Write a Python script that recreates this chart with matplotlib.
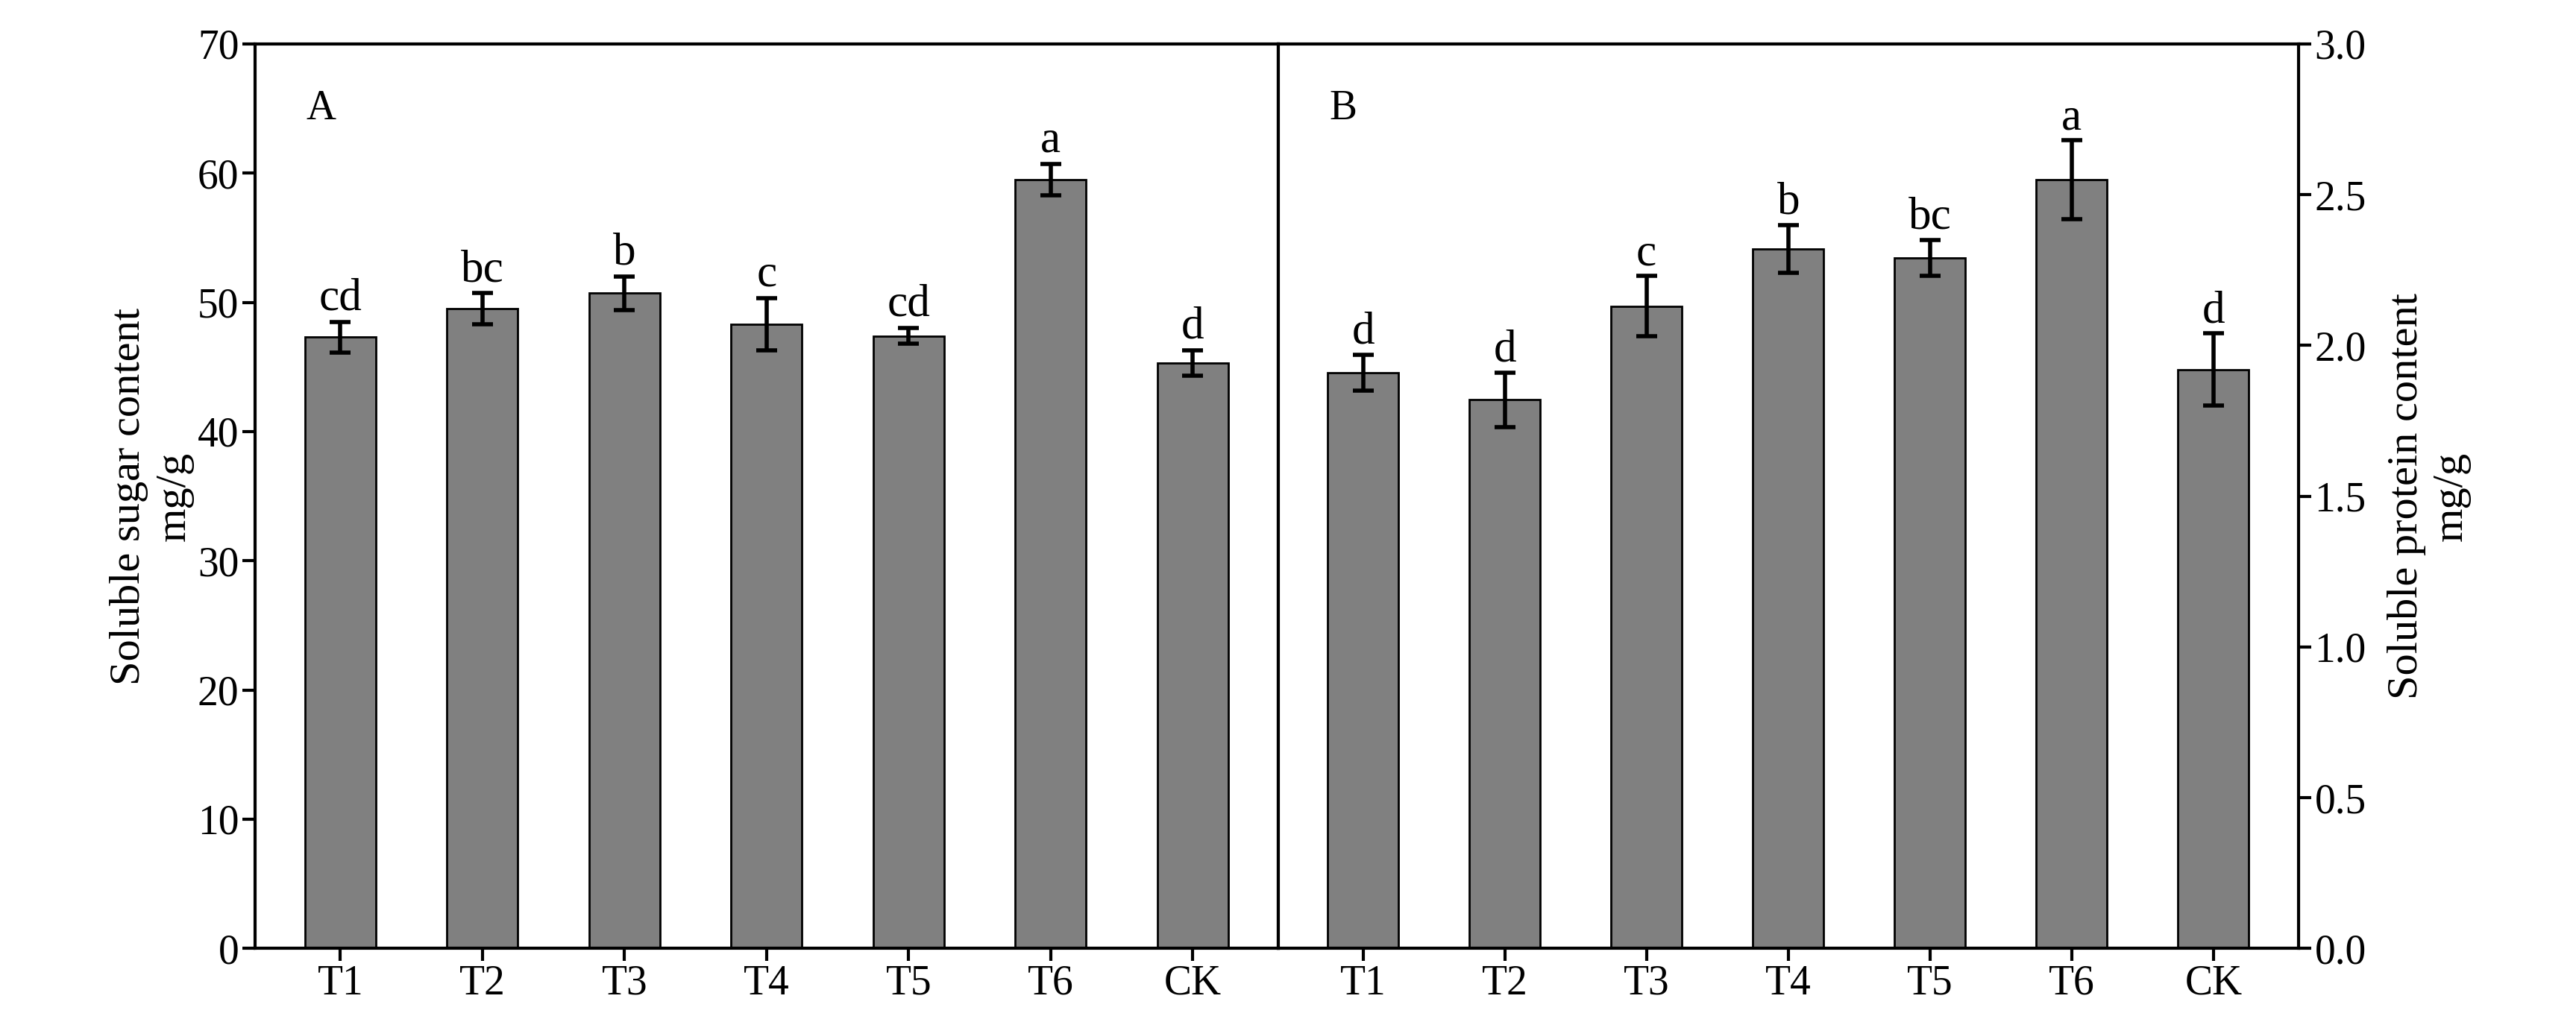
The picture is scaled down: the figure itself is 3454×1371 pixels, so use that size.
import matplotlib
matplotlib.use("Agg")
import matplotlib.pyplot as plt

plt.rcParams['font.family'] = ['Liberation Serif', 'DejaVu Serif']

groups = ['T1', 'T2', 'T3', 'T4', 'T5', 'T6', 'CK']
sugar = [47.3, 49.5, 50.7, 48.3, 47.4, 59.5, 45.3]
sugar_err = [1.2, 1.2, 1.3, 2.0, 0.6, 1.2, 1.0]
sugar_sig = ['cd', 'bc', 'b', 'c', 'cd', 'a', 'd']
protein = [1.91, 1.82, 2.13, 2.32, 2.29, 2.55, 1.92]
protein_err = [0.06, 0.09, 0.10, 0.08, 0.06, 0.13, 0.12]
protein_sig = ['d', 'd', 'c', 'b', 'bc', 'a', 'd']

fig = plt.figure(figsize=(34.55, 13.71), dpi=100)
ax1 = fig.add_axes([0.099, 0.072, 0.397, 0.885])
ax2 = fig.add_axes([0.496, 0.072, 0.396, 0.885])

x = range(len(groups))

def panel(ax, vals, errs, sig, ymax, off, letter):
    ax.bar(x, vals, width=0.5, color='#808080', edgecolor='black', linewidth=2)
    ax.errorbar(x, vals, yerr=errs, fmt='none', ecolor='black', elinewidth=4, capsize=10, capthick=4)
    for i, (v, e, s) in enumerate(zip(vals, errs, sig)):
        ax.text(i, v + e + off, s, ha='center', va='bottom', fontsize=44)
    ax.set_xlim(-0.6, 6.6)
    ax.set_ylim(0, ymax)
    ax.set_xticks(list(x))
    ax.set_xticklabels(groups)
    ax.tick_params(labelsize=40, width=3, length=12, direction='out')
    for sp in ax.spines.values():
        sp.set_linewidth(3)
    ax.text(0.05, 0.95, letter, transform=ax.transAxes, fontsize=40, va='top')

panel(ax1, sugar, sugar_err, sugar_sig, 70, 0.2, 'A')
ax1.set_yticks(range(0, 71, 10))
ax1.set_ylabel('Soluble sugar content\nmg/g', fontsize=42)

panel(ax2, protein, protein_err, protein_sig, 3.0, 0.005, 'B')
ax2.yaxis.tick_right()
ax2.yaxis.set_label_position('right')
ax2.set_yticks([0, 0.5, 1.0, 1.5, 2.0, 2.5, 3.0])
ax2.set_yticklabels(['0.0', '0.5', '1.0', '1.5', '2.0', '2.5', '3.0'])
ax2.set_ylabel('Soluble protein content\nmg/g', fontsize=42, rotation=90, labelpad=20)

fig.savefig('out.png', dpi=100)
